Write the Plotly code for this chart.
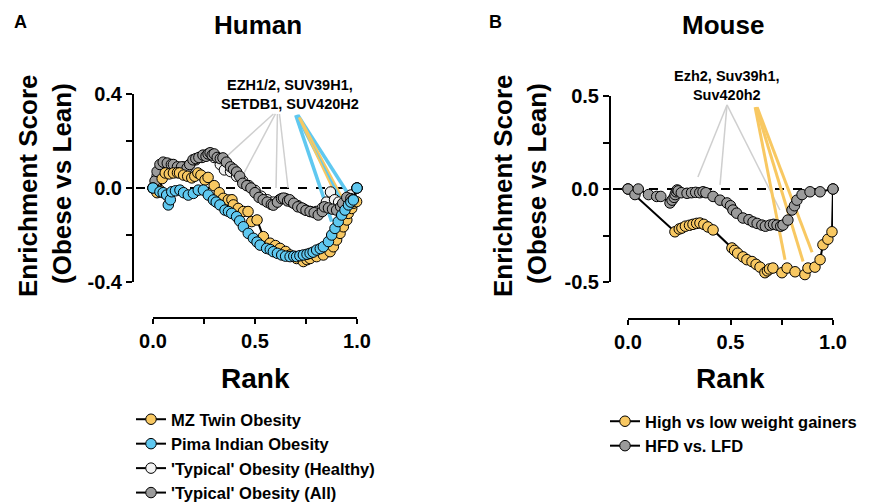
import plotly.graph_objects as go

W, H = 869, 502

# ---------------- DATA ----------------
# Human panel
mz_x = [0.0, 0.02, 0.034, 0.045, 0.06, 0.08, 0.1, 0.12, 0.13, 0.15, 0.17, 0.19, 0.205, 0.22, 0.235, 0.255, 0.27,
        0.3, 0.325, 0.345, 0.369, 0.387, 0.394, 0.418, 0.443, 0.466, 0.484, 0.51, 0.541, 0.574, 0.6, 0.623, 0.65,
        0.672, 0.704, 0.737, 0.755, 0.77, 0.802, 0.835, 0.868, 0.884, 0.9, 0.917, 0.933, 0.95, 0.957, 0.974,
        0.982, 0.998]
mz_y = [0.0, -0.02, -0.01, 0.04, 0.064, 0.06, 0.064, 0.065, 0.064, 0.055, 0.05, 0.043, 0.05, 0.064, 0.055, 0.034,
        0.045, 0.01, -0.02, -0.044, -0.051, -0.05, -0.072, -0.087, -0.1, -0.1, -0.143, -0.136, -0.207, -0.235,
        -0.245, -0.257, -0.27, -0.285, -0.3, -0.313, -0.305, -0.3, -0.292, -0.285, -0.271, -0.25, -0.221, -0.193,
        -0.165, -0.136, -0.108, -0.087, -0.065, -0.058]

pima_x = [0.0, 0.034, 0.05, 0.067, 0.075, 0.085, 0.092, 0.11, 0.132, 0.15, 0.173, 0.198, 0.222, 0.247, 0.271,
          0.296, 0.31, 0.328, 0.353, 0.37, 0.386, 0.41, 0.425, 0.443, 0.467, 0.492, 0.51, 0.525, 0.557, 0.575,
          0.59, 0.61, 0.631, 0.65, 0.672, 0.69, 0.704, 0.72, 0.737, 0.755, 0.77, 0.785, 0.802, 0.82, 0.835,
          0.86, 0.876, 0.892, 0.908, 0.925, 0.941, 0.958, 0.97, 0.982, 1.0]
pima_y = [0.0, -0.016, -0.02, -0.03, -0.072, -0.05, -0.016, -0.012, -0.009, -0.02, -0.03, -0.023, -0.009, -0.009,
          -0.03, -0.051, -0.06, -0.072, -0.094, -0.1, -0.108, -0.122, -0.14, -0.165, -0.193, -0.214, -0.23, -0.243,
          -0.257, -0.262, -0.271, -0.278, -0.285, -0.29, -0.292, -0.29, -0.292, -0.288, -0.285, -0.282, -0.278,
          -0.273, -0.264, -0.258, -0.25, -0.228, -0.2, -0.172, -0.143, -0.115, -0.094, -0.072, -0.06, -0.051, 0.0]

healthy_x = [0.0, 0.02, 0.04, 0.06, 0.09, 0.12, 0.15, 0.18, 0.21, 0.24, 0.27, 0.3, 0.33, 0.35, 0.38, 0.41, 0.44,
             0.47, 0.5, 0.53, 0.56, 0.59, 0.62, 0.65, 0.68, 0.71, 0.74, 0.77, 0.8, 0.83, 0.85, 0.87, 0.89, 0.91,
             0.94, 0.97, 1.0]
healthy_y = [0.0, 0.05, 0.09, 0.1, 0.09, 0.08, 0.09, 0.1, 0.12, 0.13, 0.14, 0.13, 0.1, 0.077, 0.07, 0.05, 0.03,
             0.01, -0.01, -0.035, -0.05, -0.06, -0.05, -0.045, -0.06, -0.075, -0.09, -0.1, -0.1, -0.085, -0.06,
             -0.017, -0.05, -0.06, -0.06, -0.03, 0.0]

all_x = [0.0, 0.01, 0.02, 0.034, 0.05, 0.07, 0.09, 0.1, 0.12, 0.14, 0.167, 0.18, 0.196, 0.21, 0.225, 0.245, 0.26,
         0.27, 0.28, 0.29, 0.3, 0.315, 0.33, 0.343, 0.36, 0.38, 0.395, 0.41, 0.425, 0.44, 0.46, 0.48, 0.5, 0.52,
         0.54, 0.56, 0.58, 0.59, 0.61, 0.63, 0.64, 0.66, 0.67, 0.69, 0.71, 0.73, 0.75, 0.77, 0.79, 0.81, 0.83,
         0.84, 0.86, 0.88, 0.9, 0.92, 0.93, 0.95, 0.97, 0.98, 1.0]
all_y = [0.0, 0.03, 0.07, 0.1, 0.11, 0.106, 0.1, 0.1, 0.09, 0.09, 0.085, 0.1, 0.12, 0.125, 0.13, 0.14, 0.135,
         0.145, 0.15, 0.14, 0.145, 0.13, 0.125, 0.128, 0.11, 0.09, 0.08, 0.068, 0.05, 0.02, 0.01, 0.0, -0.02,
         -0.04, -0.05, -0.06, -0.07, -0.073, -0.06, -0.045, -0.043, -0.055, -0.05, -0.065, -0.08, -0.085, -0.095,
         -0.1, -0.105, -0.115, -0.1, -0.08, -0.085, -0.09, -0.094, -0.08, -0.065, -0.04, -0.045, -0.05, 0.0]

# Human gene-set leader lines (start x, start y, end x, end y)
hum_gray_lines = [(0.59, 0.315, 0.353, 0.128), (0.60, 0.315, 0.441, 0.055),
                  (0.61, 0.315, 0.603, 0.0), (0.62, 0.315, 0.662, 0.0)]
hum_blue_lines = [(0.70, 0.31, 0.876, -0.143), (0.705, 0.31, 0.917, -0.043), (0.71, 0.31, 0.95, -0.016)]
hum_yellow_lines = [(0.715, 0.30, 0.917, -0.07), (0.72, 0.30, 0.94, -0.06)]

# Mouse panel
gain_x = [0.0, 0.229, 0.25, 0.263, 0.28, 0.3, 0.317, 0.335, 0.351, 0.37, 0.39, 0.415, 0.507, 0.52, 0.535, 0.561,
          0.58, 0.605, 0.625, 0.644, 0.668, 0.68, 0.69, 0.707, 0.751, 0.776, 0.815, 0.863, 0.878, 0.912, 0.937,
          0.951, 0.975, 0.995, 1.0]
gain_y = [0.0, -0.23, -0.215, -0.21, -0.2, -0.195, -0.19, -0.185, -0.183, -0.19, -0.204, -0.22, -0.317, -0.33,
          -0.345, -0.365, -0.38, -0.39, -0.405, -0.42, -0.45, -0.44, -0.43, -0.425, -0.45, -0.425, -0.445, -0.46,
          -0.425, -0.42, -0.38, -0.3, -0.27, -0.23, 0.0]

hfd_x = [0.0, 0.034, 0.05, 0.1, 0.14, 0.16, 0.205, 0.215, 0.225, 0.23, 0.235, 0.24, 0.245, 0.26, 0.288, 0.31,
         0.33, 0.35, 0.366, 0.38, 0.415, 0.449, 0.483, 0.5, 0.512, 0.53, 0.561, 0.59, 0.61, 0.63, 0.653, 0.67,
         0.693, 0.71, 0.727, 0.745, 0.756, 0.78, 0.8, 0.812, 0.824, 0.849, 0.888, 0.937, 1.0]
hfd_y = [0.0, -0.03, 0.0, -0.03, -0.04, -0.04, -0.075, -0.06, -0.045, -0.03, -0.015, -0.005, -0.01, -0.02, -0.023,
         -0.02, -0.018, -0.02, -0.015, -0.02, -0.04, -0.06, -0.075, -0.09, -0.113, -0.13, -0.156, -0.165, -0.177,
         -0.185, -0.194, -0.2, -0.194, -0.19, -0.194, -0.2, -0.194, -0.167, -0.113, -0.09, -0.06, -0.03, -0.015,
         -0.015, 0.0]

mou_gray_lines = [(0.483, 0.452, 0.341, 0.065), (0.483, 0.452, 0.449, 0.022), (0.483, 0.452, 0.741, -0.113)]
mou_yellow_lines = [(0.62, 0.44, 0.766, -0.38), (0.625, 0.44, 0.854, -0.39), (0.63, 0.44, 0.898, -0.34)]

# ---------------- STYLE ----------------
YEL = "#F8C862"
BLU = "#5FC8F0"
GRY = "#9B9B9B"
WHT = "#F2F2F2"
FONT = "Liberation Sans, Arial, sans-serif"

def px(x):
    return x / W

def py(y):
    return 1 - y / H

fig = go.Figure()

def add_lines(lines, color, width, xa, ya):
    for (x0, y0, x1, y1) in lines:
        fig.add_trace(go.Scatter(x=[x0, x1], y=[y0, y1], mode="lines", xaxis=xa, yaxis=ya,
                                 line=dict(color=color, width=width), showlegend=False, hoverinfo="skip"))

def add_series(x, y, color, name, xa, ya, legend):
    fig.add_trace(go.Scatter(x=x, y=y, mode="lines+markers", name=name, xaxis=xa, yaxis=ya,
                             line=dict(color="black", width=2),
                             marker=dict(size=10.5, color=color, line=dict(color="black", width=1)),
                             cliponaxis=False, legend=legend))

# Human
add_lines(hum_gray_lines, "#CFCFCF", 1.5, "x", "y")
add_lines(hum_blue_lines, BLU, 3.5, "x", "y")
add_lines(hum_yellow_lines, YEL, 2, "x", "y")
add_series(healthy_x, healthy_y, WHT, "'Typical' Obesity (Healthy)", "x", "y", "legend")
add_series(all_x, all_y, GRY, "'Typical' Obesity (All)", "x", "y", "legend")
add_series(mz_x, mz_y, YEL, "MZ Twin Obesity", "x", "y", "legend")
add_series(pima_x, pima_y, BLU, "Pima Indian Obesity", "x", "y", "legend")

# Mouse
add_lines(mou_gray_lines, "#CFCFCF", 1.5, "x2", "y2")
add_lines(mou_yellow_lines, YEL, 3, "x2", "y2")
add_series(gain_x, gain_y, YEL, "High vs low weight gainers", "x2", "y2", "legend2")
add_series(hfd_x, hfd_y, GRY, "HFD vs. LFD", "x2", "y2", "legend2")

tickfont = dict(family=FONT, size=20, color="black", weight="bold")
common_axis = dict(showgrid=False, zeroline=False, showline=True, linecolor="black", linewidth=2,
                   ticks="outside", tickcolor="black", tickwidth=2, tickfont=tickfont, fixedrange=True)

fig.update_layout(
    width=W, height=H, margin=dict(l=0, r=0, t=0, b=0, autoexpand=False),
    paper_bgcolor="white", plot_bgcolor="rgba(0,0,0,0)",
    font=dict(family=FONT, color="black"),
    xaxis=dict(domain=[px(153), px(357)], range=[0, 1], anchor="free", position=py(318),
               tickvals=[0, 0.25, 0.5, 0.75, 1], ticktext=["0.0", "", "0.5", "", "1.0"], ticklen=5,
               **common_axis),
    yaxis=dict(domain=[py(282), py(94)], range=[-0.4, 0.4], anchor="free", position=px(133),
               tickvals=[-0.4, -0.2, 0, 0.2, 0.4], ticktext=["-0.4", "", "0.0", "", "0.4"], ticklen=6,
               **common_axis),
    xaxis2=dict(domain=[px(628), px(833)], range=[0, 1], anchor="free", position=py(319),
                tickvals=[0, 0.25, 0.5, 0.75, 1], ticktext=["0.0", "", "0.5", "", "1.0"], ticklen=5,
                **common_axis),
    yaxis2=dict(domain=[py(282), py(96)], range=[-0.5, 0.5], anchor="free", position=px(610),
                tickvals=[-0.5, -0.25, 0, 0.25, 0.5], ticktext=["-0.5", "", "0.0", "", "0.5"], ticklen=6,
                **common_axis),
    legend=dict(x=px(131), y=py(402), xanchor="left", yanchor="top", bgcolor="rgba(0,0,0,0)",
                font=dict(family=FONT, size=16.5, color="black", weight="bold"), tracegroupgap=0,
                traceorder="normal"),
    legend2=dict(x=px(605), y=py(404), xanchor="left", yanchor="top", bgcolor="rgba(0,0,0,0)",
                 font=dict(family=FONT, size=16.5, color="black", weight="bold"), tracegroupgap=0),
    showlegend=True,
)

# legend order like the reference
order = {"MZ Twin Obesity": 1, "Pima Indian Obesity": 2, "'Typical' Obesity (Healthy)": 3,
         "'Typical' Obesity (All)": 4, "High vs low weight gainers": 1, "HFD vs. LFD": 2}
for tr in fig.data:
    if tr.name in order:
        tr.legendrank = order[tr.name]

# dashed zero lines
fig.add_shape(type="line", xref="paper", yref="y", x0=px(136), x1=px(357), y0=0, y1=0,
              line=dict(color="black", width=2, dash="dash"), layer="below")
fig.add_shape(type="line", xref="paper", yref="y2", x0=px(613), x1=px(833), y0=0, y1=0,
              line=dict(color="black", width=2, dash="dash"), layer="below")

def ann(text, x, y, size, angle=0):
    fig.add_annotation(text=text, x=px(x), y=py(y), xref="paper", yref="paper", showarrow=False,
                       xanchor="center", yanchor="middle", textangle=angle,
                       font=dict(family=FONT, size=size, color="black", weight="bold"))

ann("A", 20, 22, 18)
ann("Human", 258, 25, 26)
ann("B", 495, 22, 18)
ann("Mouse", 723, 25, 26)
ann("Enrichment Score", 28, 186, 26, -90)
ann("(Obese vs Lean)", 62, 184, 26, -90)
ann("Enrichment Score", 503, 186, 26, -90)
ann("(Obese vs Lean)", 537, 184, 26, -90)
ann("Rank", 255, 378, 28)
ann("Rank", 730, 378, 28)
ann("EZH1/2, SUV39H1,<br>SETDB1, SUV420H2", 290, 94, 14.5)
ann("Ezh2, Suv39h1,<br>Suv420h2", 727, 86, 14.5)

fig.write_html("out.html", config={"displayModeBar": False},
               post_script="document.body.style.margin='0px';")
